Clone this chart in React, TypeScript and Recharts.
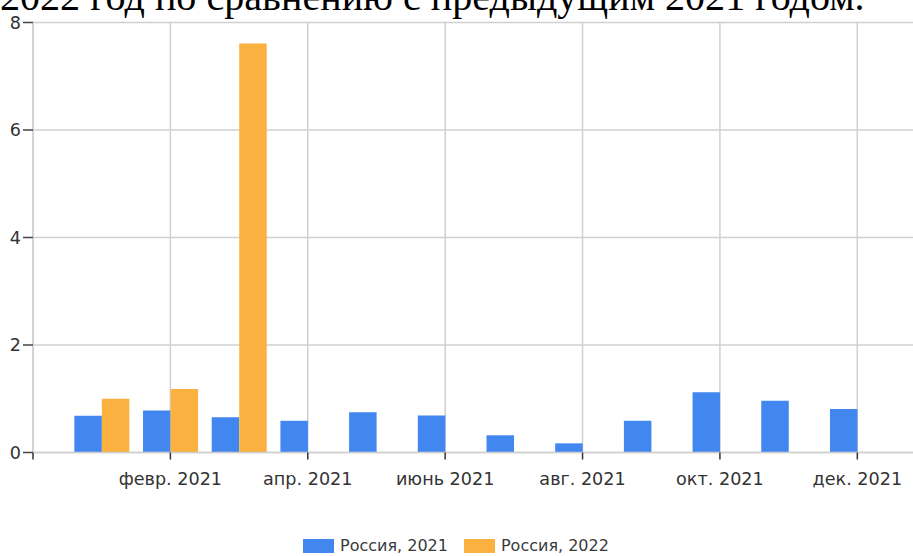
import React from 'react';
import { BarChart, Bar, XAxis, YAxis, CartesianGrid, Legend } from 'recharts';

const monthIndex = [0, 1, 2, 3, 4, 5, 6, 7, 8, 9, 10, 11];
const russia2021 = [0.685, 0.78, 0.655, 0.59, 0.75, 0.69, 0.32, 0.17, 0.59, 1.12, 0.965, 0.81];
const russia2022: (number | null)[] = [1.0, 1.18, 7.61, null, null, null, null, null, null, null, null, null];
const xTickValues = [-1, 1, 3, 5, 7, 9, 11];
const xTickLabels = ['', 'февр. 2021', 'апр. 2021', 'июнь 2021', 'авг. 2021', 'окт. 2021', 'дек. 2021'];
const yTicks = [0, 2, 4, 6, 8];
const seriesNames = ['Россия, 2021', 'Россия, 2022'];
const seriesColors = ['#4287f0', '#fbb13f'];
const titleText = '2022 год по сравнению с предыдущим 2021 годом.';

const data = monthIndex.map((m, i) => ({ m, r2021: russia2021[i], r2022: russia2022[i] }));

const fmtX = (v: number) => {
  const i = xTickValues.indexOf(v);
  return i >= 0 ? xTickLabels[i] : '';
};

const LegendContent = (props: any) => {
  const payload = props.payload || [];
  return (
    <div
      style={{
        height: 18,
        display: 'flex',
        alignItems: 'center',
        paddingLeft: 303,
        fontFamily: 'DejaVu Sans',
        fontSize: 16,
        color: '#3a3a3a',
      }}
    >
      {payload.map((p: any, i: number) => (
        <div key={i} style={{ display: 'flex', alignItems: 'center', marginRight: 16 }}>
          <div style={{ width: 31, height: 14, background: p.color, marginRight: 6 }} />
          <span>{p.value}</span>
        </div>
      ))}
    </div>
  );
};

export default function App() {
  return (
    <div
      style={{
        position: 'absolute',
        left: 0,
        top: 0,
        width: 913,
        height: 556,
        overflow: 'hidden',
        background: '#fff',
      }}
    >
      <BarChart
        width={926}
        height={556}
        data={data}
        margin={{ top: 22.5, right: 0, bottom: 1.5, left: 0 }}
        barGap={0}
      >
        <CartesianGrid stroke="#d0d0d0" strokeWidth={1.5} />
        <XAxis
          dataKey="m"
          type="number"
          domain={[-1, 12]}
          ticks={xTickValues}
          tickFormatter={fmtX}
          allowDataOverflow
          height={84}
          tickSize={7}
          tickMargin={13}
          axisLine={{ stroke: '#d0d0d0', strokeWidth: 1.5 }}
          tickLine={{ stroke: '#333', strokeWidth: 1.5 }}
          tick={{ fill: '#333', fontSize: 17.6, fontFamily: 'DejaVu Sans' }}
          interval={0}
        />
        <YAxis
          width={33}
          domain={[0, 8]}
          ticks={yTicks}
          tickSize={10}
          tickMargin={2}
          axisLine={{ stroke: '#d0d0d0', strokeWidth: 1.5 }}
          tickLine={{ stroke: '#444', strokeWidth: 1.5 }}
          tick={{ fill: '#333', fontSize: 17.6, fontFamily: 'DejaVu Sans' }}
          interval={0}
        />
        <Legend verticalAlign="bottom" content={<LegendContent />} />
        <Bar dataKey="r2021" name={seriesNames[0]} fill={seriesColors[0]} barSize={27.5} isAnimationActive={false} />
        <Bar dataKey="r2022" name={seriesNames[1]} fill={seriesColors[1]} barSize={27.5} isAnimationActive={false} />
      </BarChart>
      <svg
        width={913}
        height={30}
        style={{ position: 'absolute', left: 0, top: 0, pointerEvents: 'none' }}
      >
        <text x={0} y={10} fontFamily="Liberation Serif" fontSize={40.1} fill="#000">
          {titleText}
        </text>
      </svg>
    </div>
  );
}
